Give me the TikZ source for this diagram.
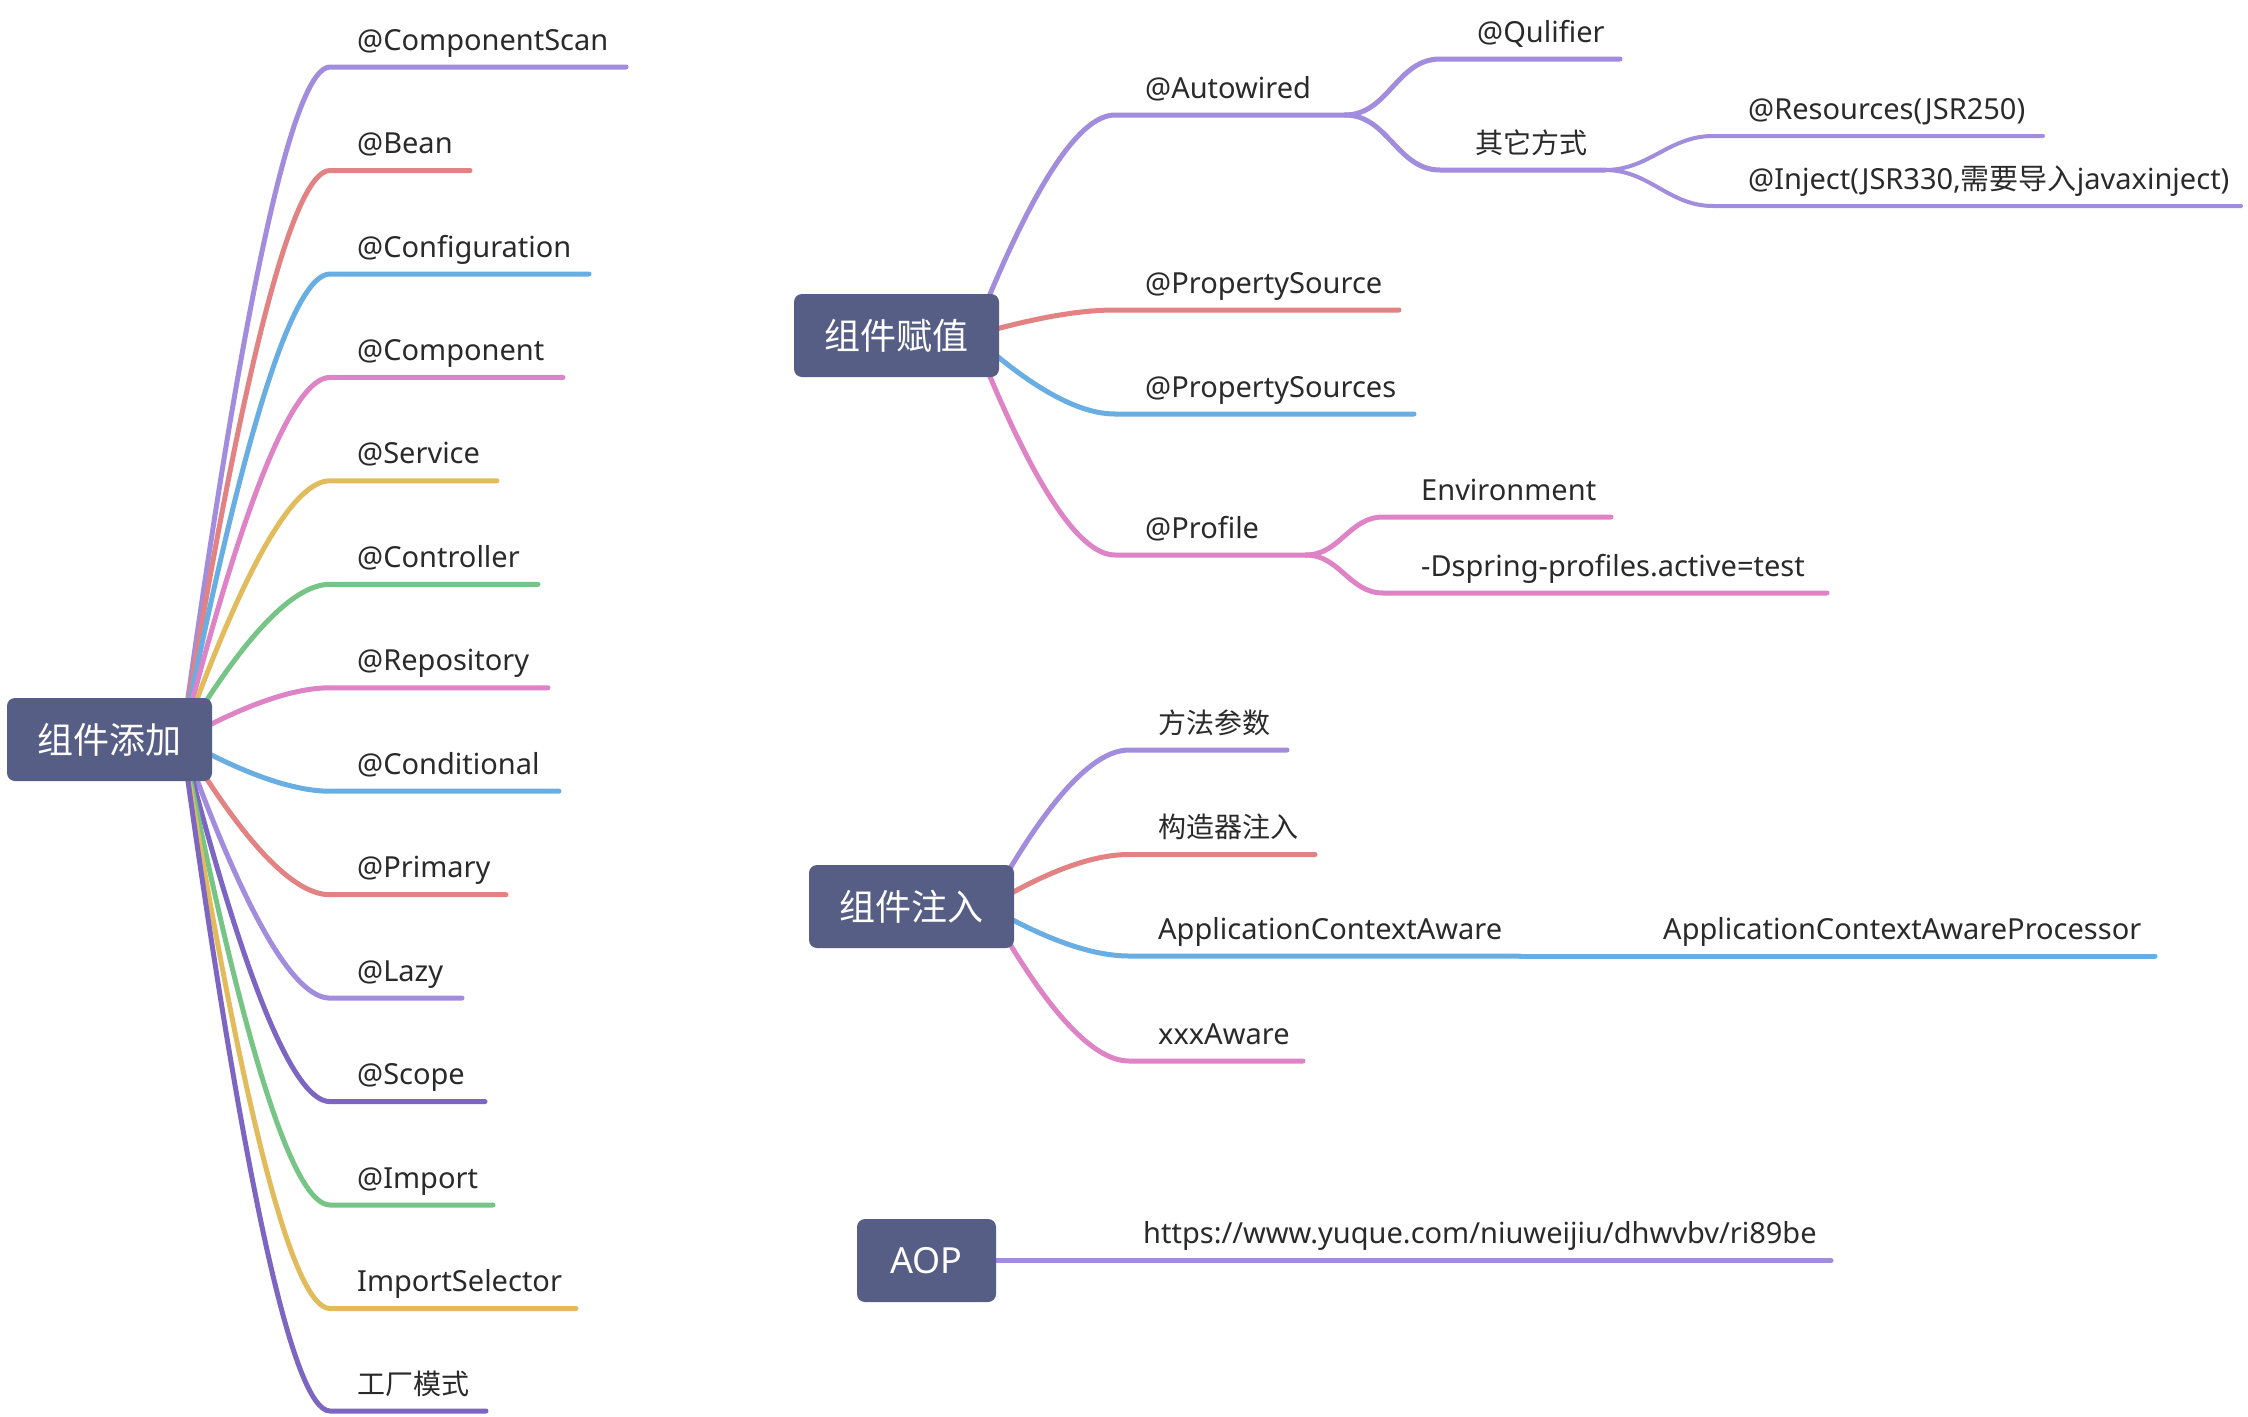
\documentclass[tikz,border=0pt]{standalone}
\usepackage{fontspec}
\setmainfont{Noto Sans}
\newfontfamily\cjk{Noto Sans CJK SC}
\usetikzlibrary{calc}
\definecolor{cpurple}{HTML}{A28CDE}
\definecolor{cred}{HTML}{E38282}
\definecolor{cblue}{HTML}{68AEE3}
\definecolor{cpink}{HTML}{DD83C6}
\definecolor{cyellow}{HTML}{E2BC5C}
\definecolor{cgreen}{HTML}{77C487}
\definecolor{cdark}{HTML}{7D66C2}
\definecolor{boxcol}{HTML}{575E85}
\definecolor{txt}{HTML}{2A2A2A}
\pgfdeclarelayer{bg}
\pgfsetlayers{bg,main}
\tikzset{
  rootbox/.style={fill=boxcol, rounded corners=8pt, text=white, minimum height=83pt,
    inner sep=0pt, font=\cjk\fontsize{36}{40}\selectfont},
  leaf/.style={inner sep=0pt, anchor=base west, text=txt, font=\fontsize{29}{34}\selectfont},
  cjkleaf/.style={leaf, font=\cjk\fontsize{28}{34}\selectfont},
  branch/.style={line width=5pt, line cap=round},
  lvtwo/.style={line width=5pt},
  lvthree/.style={line width=4pt},
}
% name, colour, from, startX, y, endX, textX, style, text
\newcommand\rootleaf[9]{%
  \coordinate (#1-a) at (#4,#5);
  \coordinate (#1-b) at (#6,#5);
  \coordinate (#1-q) at ({#4-55},#5);
  \begin{pgfonlayer}{bg}
  \draw[branch,#2] (#3) .. controls ($(#3)!0.6667!(#1-q)$) and ($(#1-a)!0.6667!(#1-q)$) .. (#1-a) -- (#1-b);
  \end{pgfonlayer}
  \node[#8] (#1) at (#7,{#5-17}) {#9};
}
\newcommand\subleaf[9]{%
  \coordinate (#1-a) at (#4,#5);
  \coordinate (#1-b) at (#6,#5);
  \begin{pgfonlayer}{bg}
  \draw[branch,#2] (#3) to[out=0,in=180] (#1-a) -- (#1-b);
  \end{pgfonlayer}
  \node[#8] (#1) at (#7,{#5-17}) {#9};
}
\begin{document}
\begin{tikzpicture}[x=1pt,y=-1pt]
\begin{pgfonlayer}{bg}
\fill[white] (0,0) rectangle (2248,1416);
\end{pgfonlayer}
\useasboundingbox (0,0) rectangle (2248,1416);

% root boxes
\node[rootbox, minimum width=205pt] (r1) at (109.5,739.5) {组件添加};
\node[rootbox, minimum width=205pt] (r2) at (896.5,335.5) {组件赋值};
\node[rootbox, minimum width=205pt] (r3) at (911.5,906.5) {组件注入};
\node[rootbox, minimum width=139pt, font=\fontsize{36}{40}\selectfont] (r4) at (926.5,1260.5) {AOP};

\coordinate (r1s) at ($(r1.east)+(-30,0)$);
\coordinate (r2s) at ($(r2.east)+(-26,0)$);
\coordinate (r3s) at ($(r3.east)+(-26,0)$);

% ---- 组件添加
\rootleaf{cs}{cpurple}{r1s}{330}{67}{626}{357}{leaf}{@ComponentScan}
\rootleaf{bean}{cred}{r1s}{330}{170.5}{470}{357}{leaf}{@Bean}
\rootleaf{conf}{cblue}{r1s}{330}{274}{589}{357}{leaf}{@Configuration}
\rootleaf{comp}{cpink}{r1s}{330}{377.4}{563}{357}{leaf}{@Component}
\rootleaf{serv}{cyellow}{r1s}{330}{480.8}{497}{357}{leaf}{@Service}
\rootleaf{ctrl}{cgreen}{r1s}{330}{584.3}{538}{357}{leaf}{@Controller}
\rootleaf{repo}{cpink}{r1s}{330}{687.8}{548}{357}{leaf}{@Repository}
\rootleaf{cond}{cblue}{r1s}{330}{791.2}{559}{357}{leaf}{@Conditional}
\rootleaf{prim}{cred}{r1s}{330}{894.7}{506}{357}{leaf}{@Primary}
\rootleaf{lazy}{cpurple}{r1s}{330}{998.1}{462}{357}{leaf}{@Lazy}
\rootleaf{scope}{cdark}{r1s}{330}{1101.6}{485}{357}{leaf}{@Scope}
\rootleaf{imp}{cgreen}{r1s}{330}{1205}{493}{357}{leaf}{@Import}
\rootleaf{isel}{cyellow}{r1s}{330}{1308.5}{576}{357}{leaf}{ImportSelector}
\rootleaf{fact}{cdark}{r1s}{330}{1411}{486}{357}{cjkleaf}{工厂模式}

% ---- 组件赋值
\rootleaf{aw}{cpurple}{r2s}{1115}{115}{1345}{1145}{leaf}{@Autowired}
\rootleaf{ps}{cred}{r2s}{1115}{310}{1399}{1145}{leaf}{@PropertySource}
\rootleaf{pss}{cblue}{r2s}{1115}{414}{1414}{1145}{leaf}{@PropertySources}
\rootleaf{pf}{cpink}{r2s}{1115}{555}{1306}{1145}{leaf}{@Profile}
\subleaf{ql}{cpurple,lvtwo}{aw-b}{1440}{59}{1620}{1477}{leaf}{@Qulifier}
\subleaf{qt}{cpurple,lvtwo}{aw-b}{1440}{170}{1605}{1475}{cjkleaf}{其它方式}
\subleaf{rs}{cpurple,lvthree}{qt-b}{1713}{136}{2043}{1748}{leaf}{@Resources(JSR250)}
\subleaf{ij}{cpurple,lvthree}{qt-b}{1713}{206}{2241}{1748}{leaf}{@Inject(JSR330,{\cjk 需要导入}javaxinject)}
\subleaf{env}{cpink,lvtwo}{pf-b}{1383}{517}{1611}{1421}{leaf}{Environment}
\subleaf{ds}{cpink,lvtwo}{pf-b}{1383}{593}{1827}{1421}{leaf}{-Dspring-profiles.active=test}

% ---- 组件注入
\rootleaf{ff}{cpurple}{r3s}{1129}{750}{1287}{1158}{cjkleaf}{方法参数}
\rootleaf{gz}{cred}{r3s}{1129}{854.5}{1315}{1158}{cjkleaf}{构造器注入}
\rootleaf{aca}{cblue}{r3s}{1129}{956}{1520}{1158}{leaf}{ApplicationContextAware}
\rootleaf{xa}{cpink}{r3s}{1129}{1061}{1303}{1158}{leaf}{xxxAware}
\subleaf{acap}{cblue,lvtwo}{aca-b}{1560}{956}{2155}{1663}{leaf}{ApplicationContextAwareProcessor}

% ---- AOP
\coordinate (url-b) at (1831,1260.5);
\begin{pgfonlayer}{bg}
\draw[branch,cpurple] (r4.east) -- (url-b);
\end{pgfonlayer}
\node[leaf] (url) at (1143,1243) {https://www.yuque.com/niuweijiu/dhwvbv/ri89be};
\end{tikzpicture}
\end{document}
